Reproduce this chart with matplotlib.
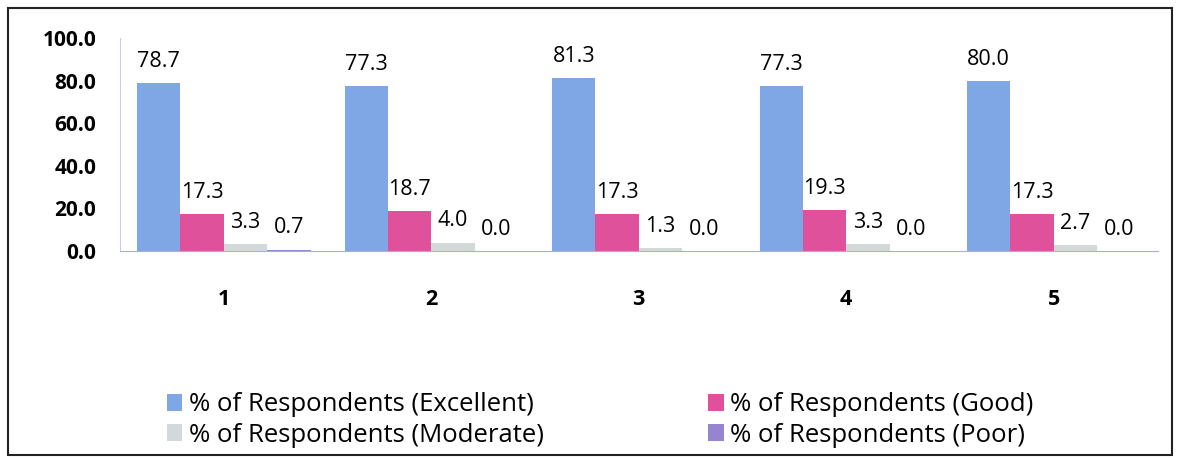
import numpy as np
import matplotlib.pyplot as plt
from matplotlib.patches import Rectangle

plt.rcParams['font.family'] = ['Open Sans', 'DejaVu Sans']

categories = ['1', '2', '3', '4', '5']
excellent = [78.7, 77.3, 81.3, 77.3, 80.0]
good = [17.3, 18.7, 17.3, 19.3, 17.3]
moderate = [3.3, 4.0, 1.3, 3.3, 2.7]
poor = [0.7, 0.0, 0.0, 0.0, 0.0]
series_names = ['% of Respondents (Excellent)', '% of Respondents (Good)',
                '% of Respondents (Moderate)', '% of Respondents (Poor)']
colors = ['#7fa7e6', '#e0519c', '#d3d9da', '#9585cf']

fig = plt.figure(figsize=(11.8, 4.59), dpi=100)
ax = fig.add_axes([0.1017, 0.453, 0.8793, 0.464])

x = np.arange(1, len(categories) + 1)
w = 0.209
all_series = [excellent, good, moderate, poor]
bars = []
for i, vals in enumerate(all_series):
    b = ax.bar(x + (i - 1.5) * w, vals, w, color=colors[i], label=series_names[i])
    bars.append(b)
    for xi, v in zip(x + (i - 1.5) * w, vals):
        ax.annotate('%.1f' % v, (xi, v), xytext=(0, 8), textcoords='offset points',
                    ha='center', va='bottom', fontsize=15.5)

ax.set_xlim(0.5, 5.5)
ax.set_ylim(0, 100)
ax.set_yticks(np.arange(0, 101, 20))
ax.set_yticklabels(['%.1f' % t for t in np.arange(0, 101, 20)], fontsize=15, fontweight='bold')
ax.set_xticks(x)
ax.set_xticklabels(categories, fontsize=15.5, fontweight='bold')
ax.tick_params(axis='both', length=0)
ax.tick_params(axis='x', pad=27)
ax.tick_params(axis='y', pad=17)
for s in ['top', 'right']:
    ax.spines[s].set_visible(False)
ax.spines['left'].set_color('#c8cde6')
ax.spines['bottom'].set_color('#a8b0d8')

handles = [bars[0], bars[2], bars[1], bars[3]]
labels = [series_names[0], series_names[2], series_names[1], series_names[3]]
fig.legend(handles, labels, ncol=2, loc='upper left', bbox_to_anchor=(0.1415, 0.145),
           frameon=False, fontsize=18.5, handlelength=0.6, handleheight=0.6,
           handletextpad=0.25, columnspacing=6.4, labelspacing=0.2, borderaxespad=0,
           borderpad=0)

fig.patches.append(Rectangle((0.007, 0.009), 0.986, 0.974, transform=fig.transFigure,
                             fill=False, edgecolor='#222222', linewidth=1.5))

fig.savefig('out.png', dpi=100)
